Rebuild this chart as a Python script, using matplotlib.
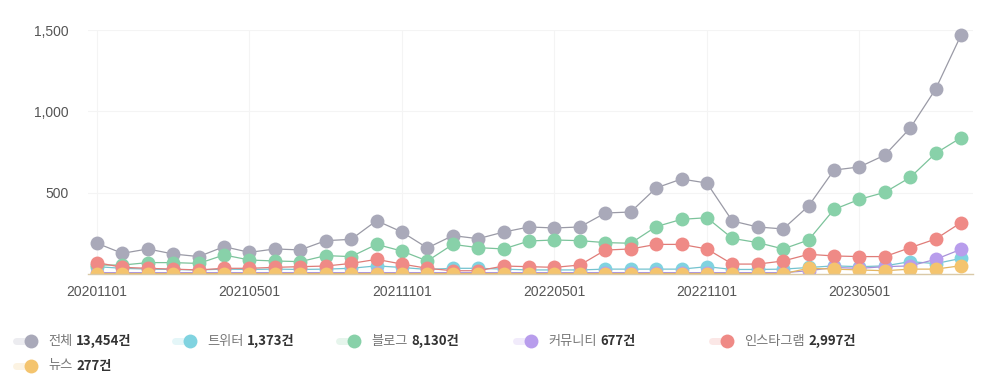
import matplotlib
matplotlib.use("Agg")
import matplotlib.pyplot as plt
from matplotlib.lines import Line2D
from matplotlib.patches import Rectangle

plt.rcParams['font.family'] = ['Noto Sans CJK KR', 'DejaVu Sans']

months = list(range(35))
tick_pos = [0, 6, 12, 18, 24, 30]
tick_labels = ["20201101", "20210501", "20211101", "20220501", "20221101", "20230501"]

total = [189, 127, 154, 123, 107, 168, 133, 154, 148, 205, 213, 328, 258, 160, 236, 217, 258, 289,
         283, 289, 375, 381, 529, 584, 559, 326, 289, 277, 418, 639, 658, 731, 897, 1137, 1469]
twitter = [45, 35, 30, 28, 25, 30, 28, 30, 28, 30, 35, 50, 40, 28, 35, 35, 30, 25,
           25, 25, 30, 30, 30, 30, 45, 28, 28, 30, 40, 50, 45, 50, 76, 64, 96]
blog = [55, 55, 70, 70, 65, 117, 86, 80, 76, 113, 107, 182, 141, 80, 182, 162, 154, 203,
        209, 205, 193, 189, 291, 336, 346, 219, 193, 154, 209, 397, 459, 502, 594, 742, 838]
community = [8, 8, 8, 8, 8, 8, 8, 8, 8, 8, 8, 8, 8, 8, 8, 8, 8, 8,
             8, 8, 8, 8, 8, 8, 8, 8, 8, 8, 20, 40, 35, 45, 50, 90, 152]
instagram = [70, 41, 35, 30, 25, 35, 35, 41, 45, 49, 65, 90, 61, 35, 20, 20, 49, 45,
             41, 55, 147, 154, 182, 182, 154, 61, 61, 80, 121, 111, 107, 107, 162, 215, 316]
news = [2, 2, 2, 2, 2, 2, 2, 2, 2, 2, 2, 2, 2, 2, 2, 2, 2, 2,
        2, 2, 2, 2, 2, 2, 2, 2, 2, 2, 35, 30, 25, 20, 30, 30, 51]

names = ["전체", "트위터", "블로그", "커뮤니티", "인스타그램", "뉴스"]
counts = ["13,454건", "1,373건", "8,130건", "677건", "2,997건", "277건"]
series = [total, twitter, blog, community, instagram, news]
marker_colors = ["#a9a9b9", "#80d3e0", "#88d1a9", "#b89dec", "#ef8a86", "#f4c46e"]
line_colors = ["#9a9aa6", "#74c3cf", "#7cc39b", "#a890d8", "#df7c78", "#e3b560"]
swatch_colors = ["#ececf0", "#e4f6f8", "#e6f5ec", "#f1ebfb", "#fbe7e6", "#fcf3e2"]

fig = plt.figure(figsize=(9.87, 3.8), dpi=100)
ax = fig.add_axes([88/987, 1-274/380, (973-88)/987, (274-30)/380])

clip_rect = Rectangle((-0.05, 0), 1.1, 1.2, transform=ax.transAxes, fill=False, visible=False)
ax.add_patch(clip_rect)
for vals, mc, lc in zip(series, marker_colors, line_colors):
    ln, = ax.plot(months, vals, color=lc, lw=0.9, marker='o', markersize=10,
                  markerfacecolor=mc, markeredgecolor=mc, markeredgewidth=0)
    ln.set_clip_path(clip_rect)

ax.set_xlim(-0.354, 34.47)
ax.set_ylim(0, 1500)
ax.set_xticks(tick_pos)
ax.set_xticklabels(tick_labels)
ax.set_yticks([500, 1000, 1500])
ax.set_yticklabels(["500", "1,000", "1,500"])
ax.tick_params(axis='both', length=0, labelsize=10, labelcolor='#555555')
ax.tick_params(axis='x', pad=8)
ax.tick_params(axis='y', pad=14)
for lab in ax.get_xticklabels() + ax.get_yticklabels():
    lab.set_family(['Liberation Sans', 'DejaVu Sans'])
ax.grid(True, color='#f4f4f4', lw=0.8)
ax.set_axisbelow(True)
for s in ['top', 'right', 'left']:
    ax.spines[s].set_visible(False)
ax.spines['bottom'].set_color('#d9c9a8')
ax.spines['bottom'].set_linewidth(1.0)
ax.spines['bottom'].set_zorder(5)

# legend drawn manually
legend_pos = [(31, 341), (190, 341), (354, 341), (531, 341), (727, 341), (31, 366)]
fig.canvas.draw()
renderer = fig.canvas.get_renderer()
W, H = 987, 380
for (px, py), name, cnt, mc, sc in zip(legend_pos, names, counts, marker_colors, swatch_colors):
    fig.add_artist(Line2D([(px-15)/W, (px+2)/W], [1-py/H, 1-py/H], color=sc, lw=5,
                          solid_capstyle='round', transform=fig.transFigure))
    fig.add_artist(Line2D([px/W], [1-py/H], marker='o', markersize=10, color=mc,
                          markeredgewidth=0, transform=fig.transFigure))
    t = fig.text((px+17)/W, 1-py/H, name, fontsize=9.5, color='#777777', va='center', ha='left')
    bb = t.get_window_extent(renderer)
    fig.text((bb.x1+4)/W, 1-py/H, cnt, fontsize=9.5, color='#333333', fontweight='bold',
             va='center', ha='left')

fig.savefig("out.png", dpi=100)
